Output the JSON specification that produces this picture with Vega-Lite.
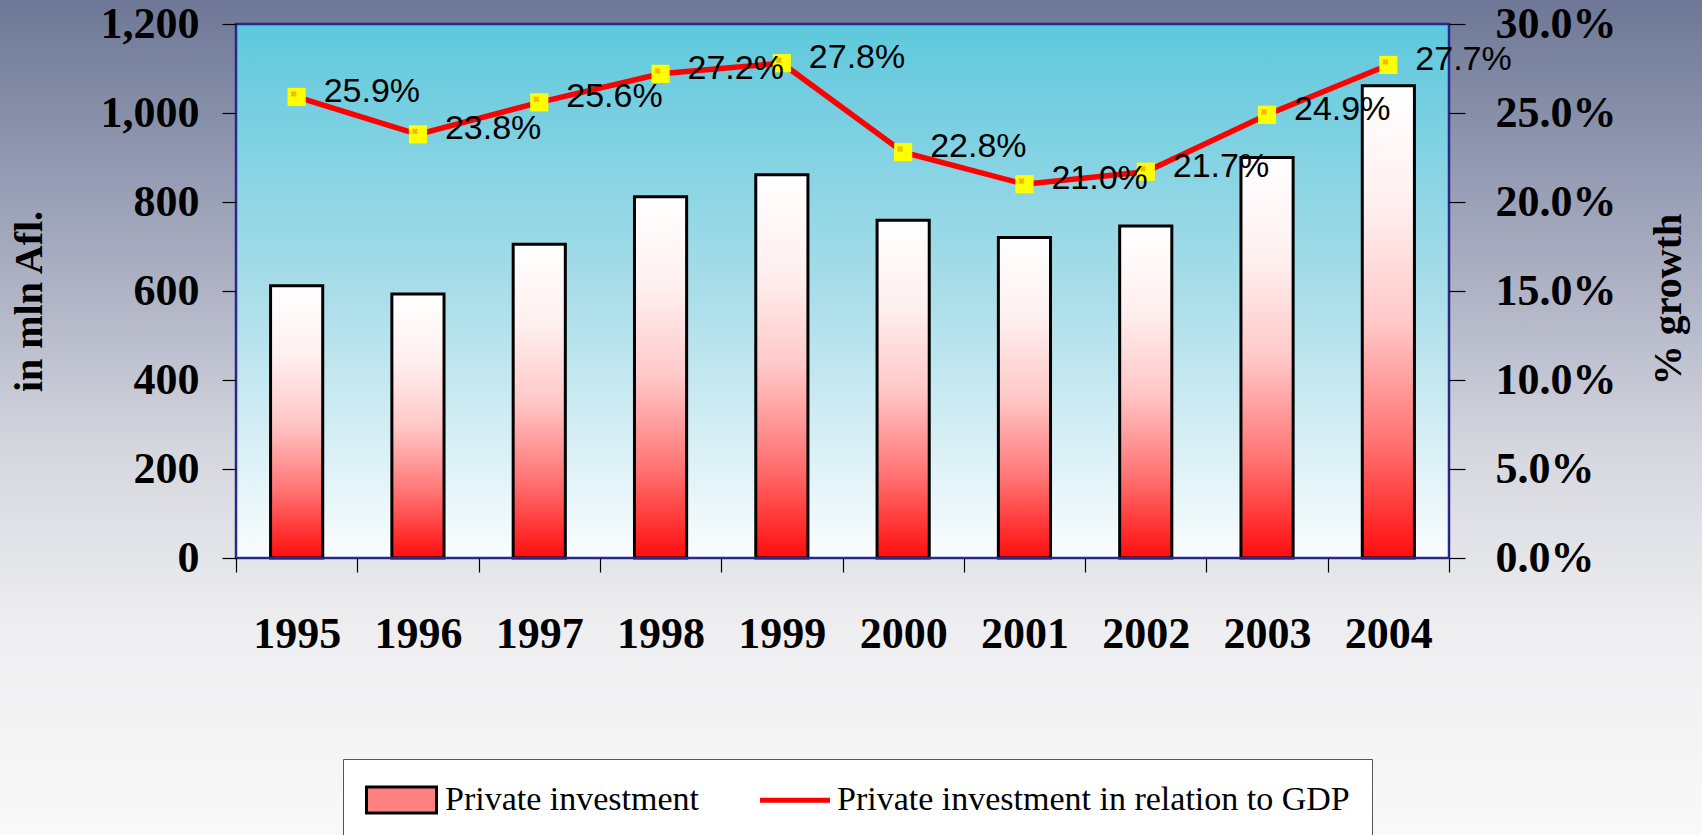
{
  "$schema": "https://vega.github.io/schema/vega-lite/v6.json",
  "width": 1213,
  "height": 534,
  "autosize": {"type": "none"},
  "padding": {"left": 236, "top": 24, "right": 253, "bottom": 277},
  "background": "#f8f8f8",
  "config": {
    "view": {"stroke": null}
  },
  "data": {
    "values": [
      {"year": "1995", "invest": 612, "pct": 0.259},
      {"year": "1996", "invest": 593, "pct": 0.238},
      {"year": "1997", "invest": 705, "pct": 0.256},
      {"year": "1998", "invest": 812, "pct": 0.272},
      {"year": "1999", "invest": 861, "pct": 0.278},
      {"year": "2000", "invest": 759, "pct": 0.228},
      {"year": "2001", "invest": 720, "pct": 0.210},
      {"year": "2002", "invest": 746, "pct": 0.217},
      {"year": "2003", "invest": 900, "pct": 0.249},
      {"year": "2004", "invest": 1061, "pct": 0.277}
    ]
  },
  "layer": [
    {
      "data": {"values": [{}]},
      "mark": {
        "type": "rect",
        "fill": {
          "gradient": "linear", "x1": 0, "y1": 0, "x2": 0, "y2": 1,
          "stops": [
            {"offset": 0, "color": "#6e7896"},
            {"offset": 0.35, "color": "#afb3c5"},
            {"offset": 0.55, "color": "#d7d8df"},
            {"offset": 0.75, "color": "#eeeef0"},
            {"offset": 1, "color": "#f9f9f9"}
          ]
        }
      },
      "encoding": {
        "x": {"value": -236},
        "x2": {"value": {"expr": "width + 253"}},
        "y": {"value": -24},
        "y2": {"value": {"expr": "height + 277"}}
      }
    },
    {
      "data": {"values": [{}]},
      "mark": {
        "type": "rect",
        "fill": {
          "gradient": "linear", "x1": 0, "y1": 0, "x2": 0, "y2": 1,
          "stops": [
            {"offset": 0, "color": "#5ec8dc"},
            {"offset": 0.5, "color": "#a9dde9"},
            {"offset": 1, "color": "#fafdfe"}
          ]
        }
      },
      "encoding": {
        "x": {"value": 0},
        "x2": {"value": "width"},
        "y": {"value": 0},
        "y2": {"value": "height"}
      }
    },
    {
      "mark": {
        "type": "bar",
        "width": {"band": 0.43},
        "fill": {
          "gradient": "linear", "x1": 0, "y1": 0, "x2": 0, "y2": 1,
          "stops": [
            {"offset": 0, "color": "#ffffff"},
            {"offset": 0.25, "color": "#fff0f0"},
            {"offset": 0.5, "color": "#ffc8c8"},
            {"offset": 0.75, "color": "#ff7474"},
            {"offset": 1, "color": "#ff0d0d"}
          ]
        },
        "stroke": "#000000",
        "strokeWidth": 3
      },
      "encoding": {
        "x": {
          "field": "year", "type": "ordinal",
          "scale": {"paddingInner": 0, "paddingOuter": 0},
          "axis": {
            "zindex": 1,
            "title": null, "labelAngle": 0, "domain": false,
            "tickBand": "extent", "tickSize": 14, "tickColor": "#000000", "tickWidth": 1.2,
            "labelPadding": 40, "labelFont": "Liberation Serif", "labelFontWeight": "bold",
            "labelFontSize": 44, "labelColor": "#000000"
          }
        },
        "y": {
          "field": "invest", "type": "quantitative",
          "scale": {"domain": [0, 1200], "nice": false},
          "axis": {
            "zindex": 1,
            "orient": "left", "values": [0, 200, 400, 600, 800, 1000, 1200], "format": ",.0f",
            "grid": false, "domain": false, "tickSize": 14, "tickColor": "#000000", "tickWidth": 1.2,
            "labelPadding": 23, "labelFont": "Liberation Serif", "labelFontWeight": "bold",
            "labelFontSize": 44, "labelColor": "#000000",
            "title": "in mln Afl.", "titleFont": "Liberation Serif", "titleFontWeight": "bold",
            "titleFontSize": 40, "titleColor": "#000000", "titlePadding": 51, "titleY": 277
          }
        }
      }
    },
    {
      "data": {"values": [{}]},
      "mark": {"type": "rect", "filled": false, "stroke": "#28288a", "strokeWidth": 2.5},
      "encoding": {
        "x": {"value": 0},
        "x2": {"value": "width"},
        "y": {"value": 0},
        "y2": {"value": "height"}
      }
    },
    {
      "mark": {"type": "line", "stroke": "#ff0000", "strokeWidth": 5.5},
      "encoding": {
        "x": {"field": "year", "type": "ordinal"},
        "y": {
          "field": "pct", "type": "quantitative",
          "scale": {"domain": [0, 0.3], "nice": false},
          "axis": {
            "zindex": 1,
            "orient": "right", "values": [0, 0.05, 0.1, 0.15, 0.2, 0.25, 0.3], "format": ".1%",
            "grid": false, "domain": false, "tickSize": 16, "tickColor": "#000000", "tickWidth": 1.2,
            "labelPadding": 30, "labelFont": "Liberation Serif", "labelFontWeight": "bold",
            "labelFontSize": 44, "labelColor": "#000000",
            "title": "% growth", "titleFont": "Liberation Serif", "titleFontWeight": "bold",
            "titleFontSize": 40, "titleColor": "#000000", "titlePadding": 72,
            "titleAngle": 270, "titleY": 275
          }
        }
      }
    },
    {
      "mark": {"type": "point", "shape": "square", "filled": true, "fill": "#ffff00", "opacity": 1, "size": 330, "strokeWidth": 0},
      "encoding": {
        "x": {"field": "year", "type": "ordinal"},
        "y": {"field": "pct", "type": "quantitative", "scale": {"domain": [0, 0.3], "nice": false}, "axis": null}
      }
    },
    {
      "mark": {"type": "point", "shape": "cross", "angle": 45, "filled": true, "fill": "#f2a900", "opacity": 0.85, "size": 40, "strokeWidth": 0, "xOffset": -3, "yOffset": -3},
      "encoding": {
        "x": {"field": "year", "type": "ordinal"},
        "y": {"field": "pct", "type": "quantitative", "scale": {"domain": [0, 0.3], "nice": false}, "axis": null}
      }
    },
    {
      "mark": {"type": "text", "align": "left", "baseline": "middle", "dx": 27, "dy": -5, "font": "Liberation Sans", "fontSize": 34, "color": "#000000"},
      "encoding": {
        "x": {"field": "year", "type": "ordinal"},
        "y": {"field": "pct", "type": "quantitative", "scale": {"domain": [0, 0.3], "nice": false}, "axis": null},
        "text": {"field": "pct", "type": "quantitative", "format": ".1%"}
      }
    },
    {
      "data": {"values": [{}]},
      "mark": {"type": "point", "filled": true, "opacity": 0, "stroke": "#000000"},
      "encoding": {
        "color": {
          "datum": "Private investment",
          "type": "nominal",
          "scale": {
            "domain": ["Private investment", "Private investment in relation to GDP"],
            "range": ["#ff8080", "#ff0000"]
          },
          "legend": {
            "title": null,
            "orient": "none",
            "legendX": 107,
            "legendY": 735,
            "direction": "horizontal",
            "fillColor": "#ffffff",
            "strokeColor": "#555555",
            "padding": 22,
            "symbolSize": 1225,
            "labelOffset": 42,
            "columnPadding": 60,
            "labelFont": "Liberation Serif",
            "labelFontSize": 34,
            "labelColor": "#000000",
            "labelLimit": 1000,
            "symbolOpacity": 1
          }
        },
        "shape": {
          "datum": "Private investment",
          "type": "nominal",
          "scale": {
            "domain": ["Private investment", "Private investment in relation to GDP"],
            "range": ["M-1,-0.74H3V0.74H-1Z", "M-1,-0.14H3V0.14H-1Z"]
          }
        },
        "strokeWidth": {
          "datum": "Private investment",
          "type": "nominal",
          "scale": {
            "type": "ordinal",
            "domain": ["Private investment", "Private investment in relation to GDP"],
            "range": [3, 0]
          }
        }
      }
    }
  ],
  "resolve": {"scale": {"y": "independent"}, "axis": {"y": "independent"}}
}
